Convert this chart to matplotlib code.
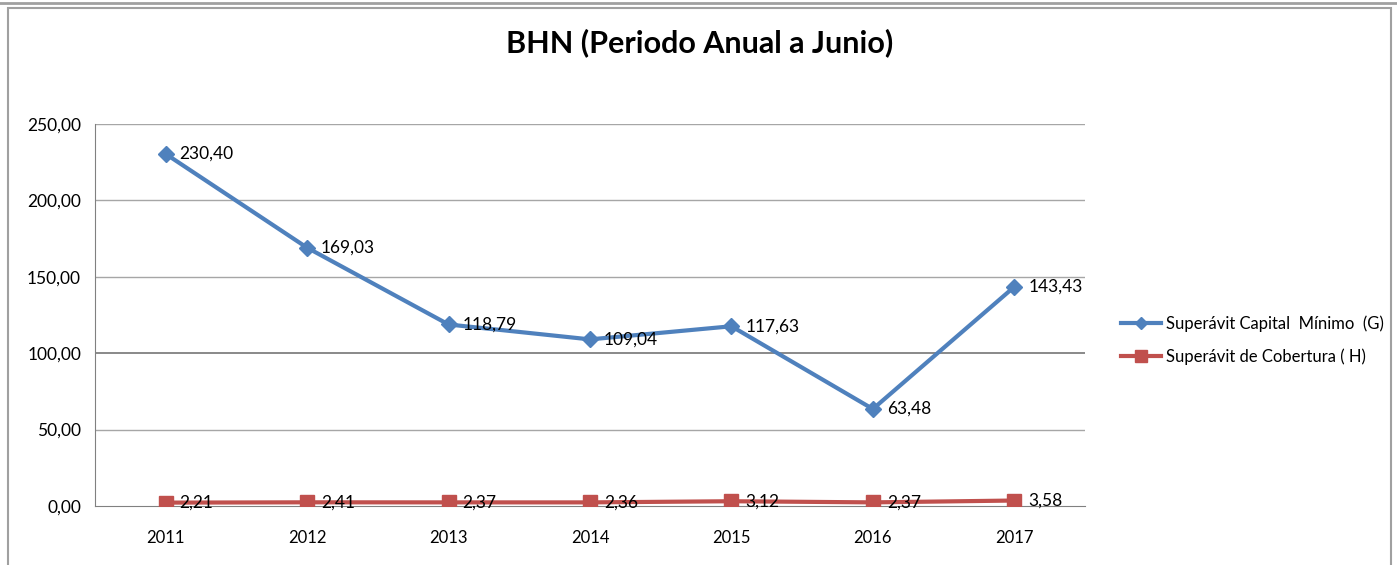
import matplotlib
matplotlib.use("Agg")
import matplotlib.pyplot as plt
from matplotlib.patches import Rectangle
from matplotlib.lines import Line2D

years = ["2011", "2012", "2013", "2014", "2015", "2016", "2017"]
capital_minimo = [230.40, 169.03, 118.79, 109.04, 117.63, 63.48, 143.43]
cobertura = [2.21, 2.41, 2.37, 2.36, 3.12, 2.37, 3.58]
series_names = ["Superávit Capital  Mínimo  (G)", "Superávit de Cobertura ( H)"]
yticks = [0, 50, 100, 150, 200, 250]
title = "BHN (Periodo Anual a Junio)"

BLUE = "#4F81BD"
RED = "#C0504D"
FONT = ["Lato", "DejaVu Sans"]

W, H = 1397, 565
fig = plt.figure(figsize=(W / 100, H / 100), dpi=100)

# outer frame
fig.add_artist(Line2D([0, 1], [1 - 3 / H, 1 - 3 / H], transform=fig.transFigure, color="#a0a0a0", lw=2))
fig.add_artist(Rectangle((8 / W, -0.01), (1391 - 8) / W, (H - 8) / H + 0.01, transform=fig.transFigure,
                         fill=False, edgecolor="#a0a0a0", lw=1.5))

ax = fig.add_axes([95 / W, 1 - 506 / H, (1085 - 95) / W, (506 - 124) / H])
x = list(range(len(years)))

for yv in yticks[1:]:
    ax.axhline(yv, color="#808080" if yv == 100 else "#a6a6a6", lw=1.3 if yv == 100 else 1.0, zorder=1)

ax.plot(x, capital_minimo, color=BLUE, lw=3, marker="D", ms=8, zorder=3, label=series_names[0])
ax.plot(x, cobertura, color=RED, lw=3, marker="s", ms=10, zorder=3, label=series_names[1])

def fmt(v):
    return f"{v:.2f}".replace(".", ",")

for xi, v in zip(x, capital_minimo):
    ax.annotate(fmt(v), (xi, v), xytext=(10, 0), textcoords="offset points", va="center", ha="left",
                fontsize=12.5, family=FONT, color="black", zorder=4)
for xi, v in zip(x, cobertura):
    ax.annotate(fmt(v), (xi, v), xytext=(10, 0), textcoords="offset points", va="center", ha="left",
                fontsize=12.5, family=FONT, color="black", zorder=4)

ax.set_xlim(-0.5, len(years) - 0.5)
ax.set_ylim(0, 250)
ax.set_yticks(yticks)
ax.set_yticklabels([fmt(v) for v in yticks], fontsize=12.5, family=FONT)
ax.set_xticks(x)
ax.set_xticklabels(years, fontsize=12, family=FONT)
ax.tick_params(axis="x", length=0, pad=17)
ax.tick_params(axis="y", length=0, pad=10)
for s in ["top", "right"]:
    ax.spines[s].set_visible(False)
ax.spines["left"].set_color("#808080")
ax.spines["bottom"].set_color("#808080")

fig.text(700 / W, 1 - 43 / H, title, ha="center", va="center", fontsize=22, fontweight="bold", family=FONT)

fig.legend(loc="upper left", bbox_to_anchor=(1106 / W, 1 - 300 / H), frameon=False,
           prop={"family": FONT, "size": 12}, handlelength=2.4, handletextpad=0.3, labelspacing=1.0,
           markerscale=0.8)

fig.savefig("out.png", dpi=100)
